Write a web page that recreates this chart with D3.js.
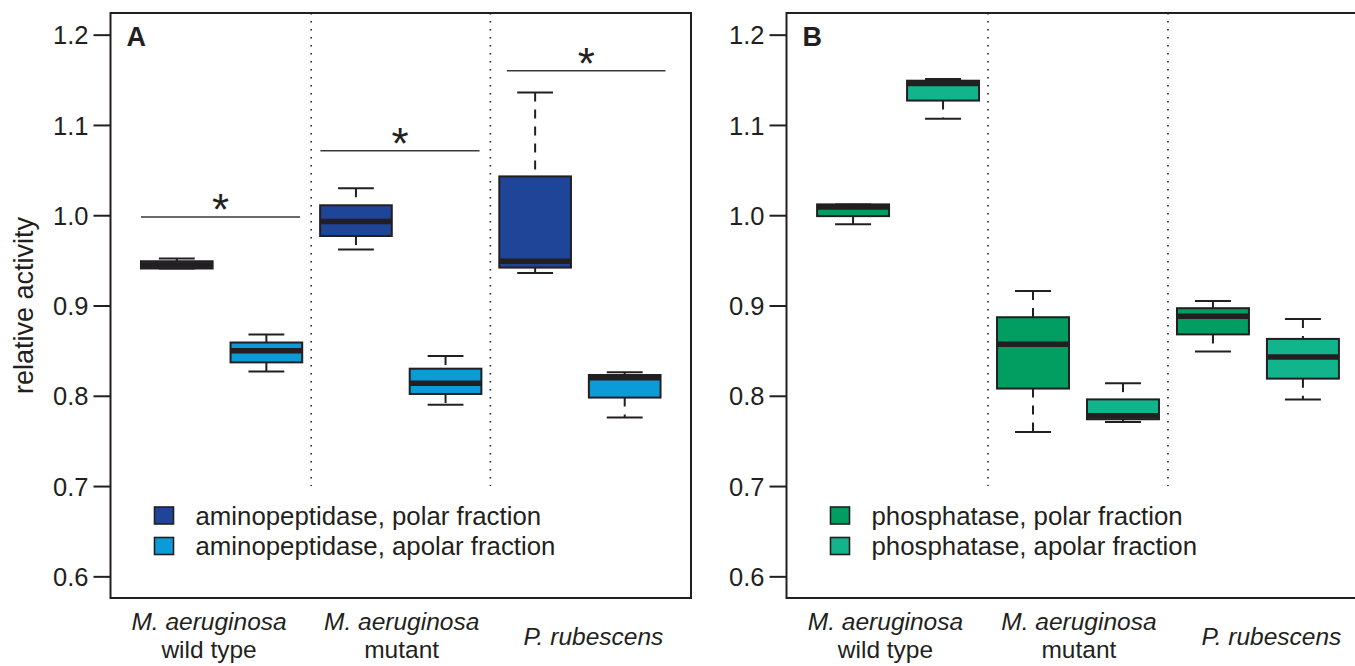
<!DOCTYPE html>
<html><head><meta charset="utf-8">
<script src="https://cdn.jsdelivr.net/npm/d3@7"></script>
<style>
body{margin:0;background:#fff;}
text{font-family:"Liberation Sans",Arial,Helvetica,sans-serif;fill:#231f20;}
</style></head>
<body><svg id="c" width="1355" height="666"></svg>
<script>
// ---------- data ----------
const categories = [["M. aeruginosa","wild type"],["M. aeruginosa","mutant"],["P. rubescens"]];
const categoryPos = [1.36, 3.51, 5.65];
const yTicks = [0.6, 0.7, 0.8, 0.9, 1.0, 1.1, 1.2];
// box stats: [lower whisker, Q1, median, Q3, upper whisker]
const aminoPolar  = [[0.941,0.941,0.945,0.949,0.952],[0.962,0.977,0.993,1.011,1.030],[0.936,0.942,0.949,1.043,1.136]];
const aminoApolar = [[0.827,0.837,0.850,0.859,0.868],[0.790,0.802,0.814,0.830,0.844],[0.776,0.798,0.820,0.823,0.826]];
const phosPolar   = [[0.990,0.999,1.009,1.012,1.012],[0.760,0.808,0.857,0.887,0.916],[0.849,0.868,0.888,0.897,0.905]];
const phosApolar  = [[1.107,1.127,1.146,1.149,1.151],[0.771,0.774,0.778,0.796,0.814],[0.796,0.819,0.843,0.863,0.885]];
const polarPos = [1, 3, 5];
const apolarPos = [2, 4, 6];
const separators = [2.5, 4.5];
const sigA = [[0.60, 2.376, 0.998], [2.603, 4.38, 1.0715], [4.685, 6.455, 1.160]]; // x0, x1, y
const legendA = ["aminopeptidase, polar fraction", "aminopeptidase, apolar fraction"];
const legendB = ["phosphatase, polar fraction", "phosphatase, apolar fraction"];

// ---------- drawing ----------
const svg = d3.select("#c");
const ink = "#231f20";
const y = d3.scaleLinear().domain([0.576, 1.224]).range([598, 13]);

function panel(cfg){
  const x = d3.scaleLinear().domain([0.26, 6.74]).range([cfg.left, cfg.right]);
  const g = svg.append("g");
  // separators (dotted)
  g.selectAll(".sep").data(separators).join("line")
    .attr("x1", d=>x(d)).attr("x2", d=>x(d))
    .attr("y1", y(1.224)).attr("y2", y(0.7))
    .attr("stroke", ink).attr("stroke-width", 1.6).attr("stroke-dasharray", "1.6,6.4");
  // boxes
  const all = [];
  cfg.series.forEach((s, si) => s.values.forEach((v, i) => all.push({v, pos: s.pos[i], color: s.color})));
  const hw = x(1.4) - x(1);   // half box width (boxwex 0.8)
  const sw = x(1.2) - x(1);   // half staple width
  const bg = g.selectAll(".box").data(all).join("g");
  // whiskers dashed
  bg.append("line").attr("x1", d=>x(d.pos)).attr("x2", d=>x(d.pos))
    .attr("y1", d=>y(d.v[4])).attr("y2", d=>y(d.v[3]))
    .attr("stroke", ink).attr("stroke-width", 2).attr("stroke-dasharray", "9,8");
  bg.append("line").attr("x1", d=>x(d.pos)).attr("x2", d=>x(d.pos))
    .attr("y1", d=>y(d.v[1])).attr("y2", d=>y(d.v[0]))
    .attr("stroke", ink).attr("stroke-width", 2).attr("stroke-dasharray", "9,8");
  // staples
  [0,4].forEach(k => bg.append("line")
    .attr("x1", d=>x(d.pos)-sw).attr("x2", d=>x(d.pos)+sw)
    .attr("y1", d=>y(d.v[k])).attr("y2", d=>y(d.v[k]))
    .attr("stroke", ink).attr("stroke-width", 2));
  // box
  bg.append("rect").attr("x", d=>x(d.pos)-hw).attr("width", 2*hw)
    .attr("y", d=>y(d.v[3])).attr("height", d=>Math.max(0.5, y(d.v[1])-y(d.v[3])))
    .attr("fill", d=>d.color).attr("stroke", ink).attr("stroke-width", 2);
  // median
  bg.append("line").attr("x1", d=>x(d.pos)-hw).attr("x2", d=>x(d.pos)+hw)
    .attr("y1", d=>y(d.v[2])).attr("y2", d=>y(d.v[2]))
    .attr("stroke", ink).attr("stroke-width", 5.5);
  // significance
  if (cfg.sig) {
    g.selectAll(".sig").data(cfg.sig).join("line")
      .attr("x1", d=>x(d[0])).attr("x2", d=>x(d[1])).attr("y1", d=>y(d[2])).attr("y2", d=>y(d[2]))
      .attr("stroke", "#3a3a3a").attr("stroke-width", 1.5);
    g.selectAll(".star").data(cfg.sig).join("text")
      .attr("x", d=>x((d[0]+d[1])/2)).attr("y", d=>y(d[2])+8)
      .attr("text-anchor", "middle").attr("font-size", 44).text("*");
  }
  // frame
  g.append("rect").attr("x", cfg.left).attr("y", y(1.224)).attr("width", cfg.right-cfg.left)
    .attr("height", y(0.576)-y(1.224)).attr("fill", "none").attr("stroke", ink).attr("stroke-width", 2);
  // y axis
  const ax = g.append("g").attr("transform", `translate(${cfg.left},0)`)
    .call(d3.axisLeft(y).tickValues(yTicks).tickFormat(d3.format(".1f")).tickSize(17).tickPadding(5));
  ax.select(".domain").remove();
  ax.selectAll(".tick line").attr("stroke", ink).attr("stroke-width", 2);
  ax.selectAll(".tick text").attr("font-size", 25.5).attr("fill", ink)
    .attr("font-family", '"Liberation Sans",Arial,Helvetica,sans-serif').attr("dy", "0.36em");
  // panel letter
  g.append("text").attr("x", cfg.left + 16).attr("y", 46).attr("font-size", 27)
    .attr("font-weight", "bold").text(cfg.letter);
  // legend
  const lg = g.selectAll(".leg").data(cfg.legend).join("g")
    .attr("transform", (d,i)=>`translate(${cfg.left+44},${507+i*30.5})`);
  lg.append("rect").attr("width", 19).attr("height", 17)
    .attr("fill", (d,i)=>cfg.series[i].color).attr("stroke", ink).attr("stroke-width", 1.6);
  lg.append("text").attr("x", 41).attr("y", 17.5).attr("font-size", 25.8).text(d=>d);
  // categories (each line its own text element)
  const lines = [];
  categories.forEach((c, i) => c.forEach((t, j) => lines.push({t, j, n: c.length, pos: categoryPos[i]})));
  g.selectAll(".cat").data(lines).join("text")
    .attr("text-anchor", "middle").attr("font-size", 24.5)
    .attr("font-style", d=>d.j ? "normal" : "italic")
    .attr("x", d=>x(d.pos))
    .attr("y", d=>d.n > 1 ? 630 + d.j*27.6 : 645)
    .text(d=>d.t);
}

panel({left:110.5, right:691, letter:"A", sig:sigA, legend:legendA,
  series:[{values:aminoPolar,pos:polarPos,color:"#1f4599"},{values:aminoApolar,pos:apolarPos,color:"#0a9bd8"}]});
panel({left:786.5, right:1369.5, letter:"B", sig:null, legend:legendB,
  series:[{values:phosPolar,pos:polarPos,color:"#029d60"},{values:phosApolar,pos:apolarPos,color:"#12b48b"}]});

// y axis title
svg.append("text").attr("transform", "translate(33,305.5) rotate(-90)")
  .attr("text-anchor", "middle").attr("font-size", 27).text("relative activity");
</script></body></html>
